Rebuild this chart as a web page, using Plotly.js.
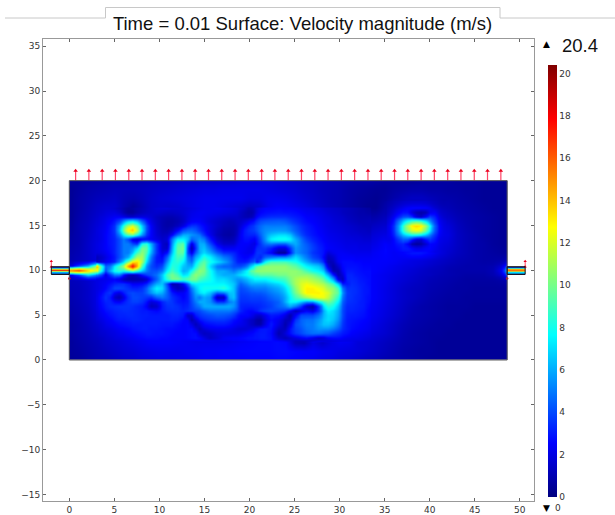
<!DOCTYPE html>
<html><head><meta charset="utf-8">
<script src="https://cdn.plot.ly/plotly-3.0.1.min.js"></script>
<style>html,body{margin:0;padding:0;background:#fff}#c{width:615px;height:515px}</style></head>
<body><div id="c"></div>
<script>
const titleText='Time = 0.01 Surface: Velocity magnitude (m/s)';
const maxLabel='20.4', minLabel='0';
const xNodes=[0,1,2,3,4,5,6,7,8,9,10,11,12,13,14,15,16,17,18,19,20,21,22,23,24,25,26,27,28,29,30,31,32,33,34,35,36,37,38,39,40,41,42,43,44,45,46,47,48,48.6];
const yNodes=[0,1,2,3,4,5,6,7,8,9,9.5,10,10.5,11,12,13,14,15,16,17,18,19,20];
const y0=[.5,.6,.8,1,1.1,1.3,1.5,1.6,1.8,1.9,2,2,2.1,2.1,2.2,2.3,2.3,2.4,2.4,2.4,2.5,2.5,2.5,2.6,2.6,2.5,2.4,2.3,2.1,2,1.8,1.7,1.5,1.3,1.2,1,.9,.8,.7,.6,.5,.5,.5,.5,.5,.5,.5,.5,.5,.5];
const y1=[.6,.7,.9,1.1,1.3,1.5,1.7,1.8,2,2.1,2.2,2.2,2.2,2.3,2.3,2.4,2.4,2.5,2.5,2.6,2.6,2.6,2.6,2.7,2.7,2.6,2.5,2.5,2.3,2.2,2,1.9,1.8,1.6,1.4,1.2,1,.8,.7,.6,.6,.5,.5,.5,.5,.5,.5,.5,.5,.5];
const y2=[.6,.8,1,1.2,1.5,1.7,1.9,2.1,2.3,2.5,2.5,2.5,2.4,2.3,2.2,2.2,2.2,2.2,2.3,2.4,2.5,2.6,2.6,2.7,2.6,1.2,1,2,1.5,2,2.3,2.2,1.8,1.7,1.5,1.3,1.1,.9,.8,.7,.6,.5,.5,.5,.5,.5,.5,.5,.5,.5];
const y3=[.7,.9,1.1,1.4,1.7,2,2.2,2.5,2.7,2.9,2.9,2.8,2.6,2.3,1.6,.9,.8,.9,1,1.2,1.6,1.8,2.2,2.6,1.2,2.5,4,5.5,5.5,3.5,3,2.8,2,2,1.8,1.6,1.3,1,.8,.7,.6,.6,.5,.5,.5,.5,.5,.5,.5,.5];
const y4=[.7,.9,1.2,1.6,2,2.4,2.7,2.9,3,3.1,3,3,2.8,2,1.6,2,2.6,2.8,2.6,2,1.2,.9,1.8,2.8,.9,2,3.5,5,6,6,4.5,3.2,2.2,2.2,2,1.7,1.4,1.1,.9,.8,.7,.6,.6,.5,.5,.5,.5,.5,.5,.5];
const y5=[.8,1,1.3,1.8,2.4,3,3.3,3.4,3.4,3.2,3.2,3.2,3,2.6,3.3,4.2,4.5,4.5,4,3,2.2,2,2.8,3.5,3,2.6,3.5,5,6,7.5,6,3.5,2.4,2.4,2.2,1.9,1.6,1.3,1,.9,.8,.7,.6,.6,.5,.5,.5,.5,.5,.5];
const y6=[.9,1.1,1.4,2,3,3.5,3.5,3,3,1.5,3,4,3,2.8,4,6,6.5,6,6.5,5.5,4.5,4,4.5,5,6,5.5,3.5,2,6,9,5,3,2.5,2.5,2.3,2,1.7,1.4,1.1,.9,.8,.7,.6,.6,.6,.5,.5,.5,.5,.5];
const y7=[1,1.2,1.5,2,3.5,1.5,3,4,3,3,5,4,2.5,2.5,4.5,6.5,4,1.5,5,6.5,6,6,6.5,7,8,10,12.5,13.5,13.5,11,4,2.8,2.7,2.6,2.4,2.1,1.8,1.5,1.3,1.1,.9,.8,.7,.7,.6,.6,.6,.6,.6,.6];
const y8=[1.1,1.2,1.5,2,2.5,3,3,2.5,2.5,4,6.5,3,1,1.5,4,6,6.5,7,6.5,7,8,8.5,9,9,10,11,11.5,11,9.5,7,3,2.6,2.7,2.6,2.4,2.1,1.8,1.5,1.3,1.2,1,.9,.8,.7,.7,.6,.6,.6,.6,.6];
const y9=[1.2,1.3,1.6,2,2.2,2.5,1.2,.8,1.2,2.5,5,7,8,8.5,9,8.5,7.5,7,7,7.5,9,9.5,10,10,10,10.5,10,8,4.5,1.5,1.2,2.4,2.7,2.6,2.4,2.2,1.9,1.7,1.5,1.3,1.1,1,.9,.8,.7,.7,.7,.7,.8,1];
const y9h=[2.5,4,7,5,5,3,5,5,4.5,5.5,7,7.5,9,9,9.5,9.5,8.5,7,6.5,7,9.5,10,10.5,10,9.5,9.5,8.5,6,2.5,1.2,2.3,2.5,2.7,2.6,2.4,2.2,2,1.8,1.6,1.4,1.3,1.1,1,.9,.8,.8,.8,1,1.6,3.5];
const y10=[16,17,14,12,8,6,9,11,7,6,6,6,8.5,9,9,9.5,9,6,5,6,9,10,10,9.5,9,8.5,7.5,4.5,1.5,1.8,2.3,2.4,2.7,2.6,2.5,2.3,2.1,1.9,1.7,1.5,1.3,1.2,1,.9,.9,.9,.9,1.1,2.2,6];
const y10h=[2,4,6,11,5,5,10,16,10,5.5,4,4.5,8,9,8,9,9,5,3.5,4,6,8,8.5,8,8,8,7,4,1,1.8,2.2,2.3,2.6,2.6,2.5,2.4,2.2,2,1.9,1.7,1.5,1.3,1.1,1,.9,.9,.9,1,1.6,3.5];
const y11=[1,1.2,1.5,1.8,2.2,4,9,14,11,5,3,3,8,9,6.5,9,8,4,3,3,3,6,7,6.5,6.5,7,6,3.5,1,1.5,2,2.2,2.5,2.5,2.5,2.5,2.4,2.2,2,1.9,1.7,1.5,1.3,1.1,1,.9,.8,.8,.9,1.2];
const y12=[.9,1.1,1.5,2,2.6,4.5,6,4,8.5,6.5,2.8,1.5,7,8,2.5,8,6,2.8,2,2,.8,4,6,2,2,6,5.5,3,1.5,1.7,1.8,1.7,2.2,2.2,2.4,2.6,2.4,2.6,3,3,2.6,2,1.6,1.3,1.1,.9,.8,.7,.6,.6];
const y13=[.8,1,1.5,2,2.8,5,5.5,1.5,3,5,3,1.2,6,8,3,6,5,2,1.5,2.5,1.5,4,6.5,4,4,6,4.5,2.8,2,1.8,1.5,1.4,1.9,1.9,2.1,2.5,3.5,1.5,.8,1.8,3.5,2.5,1.8,1.4,1.1,.9,.8,.6,.5,.5];
const y14=[.7,1,1.4,1.9,2.8,6,10,10.5,6,3.5,2,1.2,3,6.5,7.5,4,2,.9,1,2.5,4,5,6.5,7.5,7,5,3.2,2.4,2,1.7,1.5,1.3,1.5,1.6,1.8,2,4.5,9,12.5,11,6,3,2,1.4,1.1,.9,.7,.6,.5,.5];
const y15=[.6,1,1.3,1.8,2.6,5.5,11,12,8,3,1.2,.7,1.2,2.8,3,2.4,1.7,.9,.8,1.8,3,4,4.5,5,4.6,3.5,2.8,2.2,1.9,1.6,1.4,1.2,1.2,1.2,1.4,1.6,3.5,8,13,12,6,3,1.8,1.3,1,.8,.7,.6,.5,.5];
const y16=[.5,.9,1.2,1.6,2.1,2.6,2.5,1.8,2,2,1.5,.9,.8,1.4,2,2.2,2,1.4,1.3,1.5,1.2,2,3,3.2,3,2.6,2.3,2,1.7,1.4,1.2,1,1,.8,.9,1.2,1.7,2.6,1,.6,2.6,2,1.4,1.1,.9,.8,.7,.6,.5,.5];
const y17=[.5,.8,1.1,1.4,1.6,1.6,1,.5,1,1.5,1.6,1.5,1.6,1.9,2.1,2.2,2.2,2,1.8,1.6,1.3,1.5,2.2,2.5,2.4,2.2,2,1.7,1.4,1.2,1,.8,.6,.4,.4,.9,1,1.5,1.5,1.5,1.6,1.3,1.1,.9,.8,.7,.6,.5,.5,.5];
const y18=[.5,.8,1,1.2,1.3,1.4,1.1,1,1.2,1.5,1.7,1.8,1.9,2,2.1,2.2,2.2,2.2,2.2,2.2,2,2,2.2,2.2,2.1,1.9,1.7,1.5,1.3,1.1,1,.8,.6,.5,.4,.6,.9,1.2,1.4,1.4,1.2,1,.9,.8,.7,.6,.5,.5,.5,.5];
const y19=[.5,.7,.9,1,1.1,1.2,1.2,1.2,1.3,1.4,1.5,1.6,1.7,1.8,1.9,2,2,2.1,2.1,2.1,2.1,2.1,2,1.9,1.8,1.7,1.5,1.4,1.2,1.1,1,.8,.7,.6,.5,.5,.7,.8,.9,.9,.8,.8,.7,.7,.6,.6,.5,.5,.5,.5];
const y20=[.6,.6,.7,.8,.9,1,1,1.1,1.1,1.2,1.3,1.3,1.4,1.5,1.5,1.6,1.6,1.7,1.7,1.8,1.8,1.8,1.8,1.7,1.6,1.5,1.4,1.3,1.2,1.1,1,.9,.8,.8,.7,.6,.6,.6,.6,.7,.7,.7,.7,.6,.6,.6,.5,.5,.5,.5];

const fineX=[3,3.5,4,4.5,5,5.5,6,6.5,7,7.5,8,8.55,9.1,9.65,10.25,10.8,11.4,12,12.6,13.05,13.5,14,14.45,14.95,15.5,16.45,17.15,17.8,18.2,18.6,19,19.4,19.8,20.2,20.55,20.85,21.2,21.7,22.3,23.3,23.9,24.5,25.1,25.7,26.3,27,27.7,28.2,28.7,29.3,29.8,30.3,30.8,31.3,31.8,32.2,32.7,33.1,33.5];
const fineY=[2,2.5,3,3.5,4,4.5,5,5.5,6,6.5,7,7.5,8,8.5,9,9.5,10,10.5,11,11.5,12,12.5,13,13.5,14,14.5,15,15.5,16,16.5,17];
const f170=[1.4,1.5,1.6,1.6,1.5,1.2,.9,.6,.7,.9,1.1,1.3,1.5,1.7,1.8,1.8,1.7,1.7,1.7,1.8,1.9,2,2.1,2.2,2.2,2.3,2.2,2.1,2,1.9,1.7,1.5,1.1,1.2,1.5,1.9,2.2,2.5,2.5,2.6,2.5,2.5,2.4,2.2,2.1,2,1.9,1.7,1.6,1.5,1.4,1.3,1.2,1.1,1,.9,.8,.7,.6];
const f165=[1.5,1.6,1.8,1.9,1.9,1.6,1,.5,.5,.9,1.2,1.4,1.5,1.6,1.5,1.4,1.4,1.5,1.7,1.9,2.1,2.2,2.3,2.3,2.2,2.1,2,1.9,1.8,1.7,1.4,1.1,.9,.9,1.4,2,2.5,2.7,2.8,2.9,2.8,2.8,2.7,2.5,2.3,2.2,2,1.9,1.7,1.6,1.5,1.3,1.2,1.1,1,.9,.9,.8,.8];
const f160=[1.6,1.8,2,2.2,2.4,2.4,2.1,1.7,1.6,1.9,2,1.9,1.7,1.3,1.1,1,1,1.2,1.5,1.9,2.2,2.3,2.3,2.2,2,1.8,1.6,1.5,1.5,1.5,1.3,1.1,1,1.2,1.9,2.6,3,3.2,3.4,3.4,3.4,3.2,3,2.8,2.5,2.4,2.2,2,1.9,1.7,1.6,1.5,1.3,1.2,1.1,1,1,1,1];
const f155=[1.7,1.9,2.2,2.5,3,3.8,5.5,7,7.5,6.5,4.5,3,2,1.4,1,.8,.8,1,1.4,2,2.4,2.5,2.5,2.2,1.8,1.5,1.3,1.1,1.2,1.4,1.5,1.8,2.2,2.6,3,3.5,4,4.2,4.3,4.4,4.2,3.8,3.4,3,2.7,2.5,2.3,2.1,2,1.8,1.7,1.6,1.4,1.3,1.2,1.1,1.1,1.1,1.2];
const f150=[1.8,2,2.3,2.8,3.5,5.5,8.5,11,12,10,6.5,4,2.4,1.5,1,.8,.9,1.3,2,3,3.5,3.5,3,2.6,2,1.5,1.1,1,1,1.3,1.8,2.5,3,3.4,3.8,4.2,4.6,5,5,5,5,4.6,4,3.4,3,2.7,2.4,2.2,2,1.9,1.8,1.7,1.6,1.5,1.4,1.3,1.2,1.2,1.2];
const f145=[1.9,2.1,2.4,2.9,3.6,6,10,13,14,11.5,7,4,2.5,1.6,1.1,1,1.4,2.5,4,4.5,4.6,4.2,3.5,2.8,2,1.3,.9,.8,.9,1.3,2.2,3,3.4,3.6,3.8,4.2,4.8,5.3,5.5,5.6,5.5,5,4.3,3.6,3.1,2.8,2.5,2.3,2.1,2,1.9,1.8,1.7,1.6,1.5,1.4,1.4,1.3,1.3];
const f140=[1.9,2.1,2.5,2.9,3.4,5,7.5,9.5,10,8,5.5,3.5,2.5,1.7,1.3,1.4,2.5,4.5,6,6,5.5,5.2,4.8,3.5,2.2,1.2,.8,.7,.9,1.5,2.4,3,3.2,3.2,3.2,3.6,4.5,5.5,6.5,7,7,6.5,5,4,3.3,2.9,2.6,2.4,2.2,2.1,2,1.9,1.8,1.7,1.7,1.6,1.5,1.5,1.5];
const f135=[1.9,2.1,2.5,2.9,3.2,4,5,4,2,1.6,2.4,2.6,2.4,2,1.5,1.8,5,7.5,7.5,6.5,4.5,5,5.6,5,3,1.6,1.1,1,1.2,1.8,2.4,2.8,2.8,2.6,2.4,3,4,5.5,7.5,8,8,7.5,6,4.8,3.8,3.2,2.8,2.5,2.3,2.2,2.1,2,1.9,1.9,1.8,1.8,1.7,1.7,1.7];
const f130=[2,2.2,2.5,2.9,3.2,4,5,5,4,3.5,8,8.5,6,3.5,1.6,1.2,5.5,9,9.5,5,2,4,6,6,4,2.2,1.5,1.5,1.6,2.2,2.5,2.5,2.5,2.2,2,2.8,3.6,4.6,5,4.5,4.5,5.5,6,5,4.3,3.6,3,2.7,2.4,2.3,2.2,2.1,2,2,2,1.9,1.9,1.9,1.9];
const f125=[2,2.2,2.5,2.8,3.2,4,5,5,5.5,7,10,9.5,6.5,3.5,1.6,1.5,6,9.5,10,4,1,3.5,6,6.5,5,3.2,2.4,2.4,2.4,2.6,2.5,2.4,2.2,2.1,2.6,3.4,3.5,3.6,3,1.8,1.8,3.5,5.5,5,4.5,3.8,3.2,2.8,2.5,2.4,2.3,2.2,2.1,2.1,2.1,2,2,2,2];
const f120=[1.9,2,2.3,2.7,3.2,4,5,5,6.5,9,10.5,9,6,3.5,2,2.8,6.5,9.5,9.5,4,2.2,4.5,6,7,6,4.5,3.5,3.4,3.2,2.8,2.5,2.3,2.2,2.3,3,3.6,3.6,3.2,2.5,.6,.6,3,5.5,5,4.5,3.6,3.2,2.8,1.8,2.2,2.4,2.4,2.3,2.2,2.2,2.2,2.2,2.2,2.2];
const f115=[1.2,1.5,2,2.5,3,4,5,6,8.5,11,11,8,5,3,2.6,4.5,7.5,9,8.5,5,4,6,7,8.5,7.5,6,5,4.5,3.6,3,2.7,2.5,2.6,3,3.5,3.5,3.2,4.5,5,5.5,5.5,6,7,6,5,4,3.5,2.5,1.2,1.6,2.4,2.5,2.5,2.5,2.4,2.4,2.4,2.4,2.4];
const f110=[1.5,1.8,2.3,2.7,3.2,5,7,10,13,13.5,11,7,4.5,3,3,5.5,8,8.5,7.5,5.5,4.8,7,8.5,9.5,8,7,6,5,4,3.2,3,3,3.3,4,4.5,3,4.5,7.5,9,9,9,8.5,8,7,6,5,4.5,3.2,1,1.2,2.3,2.7,2.7,2.7,2.6,2.6,2.5,2.5,2.5];
const f105=[14,9,4.5,5,7.5,9,11,15,18,14.5,9,5.5,4,3.4,4,6.5,8.5,8,6.5,6,6,8,9.5,10,7,5,4.5,4.5,4,4,4,4.5,5.5,7,8.5,9.5,10,10.5,10.5,10.5,10.5,10,9.5,8.5,7.5,7,6.5,5,1.8,.8,1.6,2.6,2.8,2.8,2.8,2.7,2.6,2.6,2.6];
const f100=[12,8,4,6,8,8.5,8,9,10,8.5,6.5,5,4.2,4.2,5,7.5,9,8,6,6.5,8,9.5,10.5,10,8,6,6,5.5,5,5.5,6,7,8,9.5,10,10.5,10.5,10.5,10.5,10.5,10.5,10.5,10.5,10,9,8,7.5,6.5,3.5,1,1,2.4,3,3,2.9,2.8,2.7,2.7,2.7];
const f095=[5,4,2,3.5,5,5,3,1.5,1.2,1.6,3,3.8,4.2,4.8,6.5,9,10,9,7,7.5,9.5,10.5,10,9.5,8,6.5,6,6,6,6.5,7,7.5,8,8.5,9,9,9.5,9.5,9.5,10,10,10.5,10.5,10.5,10.5,10,9,8,6,3,1,1.8,3.2,3.2,3,2.9,2.8,2.7,2.7];
const f090=[2,2.1,2.2,2.3,2.5,2,1.2,.8,.8,.9,1,1.5,3,4.5,6.5,8.5,10,10,9,9.5,10,10,9,8.5,8,7,7,6.5,6,5.5,5.5,6,6.5,7,7.5,7.5,7.5,7.5,8,8.5,9,10,11,11.5,11.5,11,10.5,9.5,8,6,2,1.2,3.2,3.3,3.2,3,2.9,2.8,2.7];
const f085=[2,2.2,2.4,2.8,3.2,3.4,3.4,3,2.4,2.4,2.6,3.2,4.5,6,6.5,4,.9,1.2,2.5,4.5,7,7.5,7.5,7.5,7.5,7.5,7.5,7,6.5,5.5,4.5,5,5.5,6,6,6,6,6,6.5,7,8,9.5,11,12,12.5,12,11.5,11,10,9,6.5,3,3,3.4,3.3,3.1,3,2.8,2.7];
const f080=[2,2.2,2.6,3.2,4,4,3.8,3.5,3.2,3.2,3.5,4.5,6,7.5,7,4.5,2,1.2,1.5,3,5,6.5,7.5,8,8,8,8.5,7.5,6.5,5,4,4.2,4.5,4.8,5,5,5,5,5.5,6,7,8.5,10.5,12,13,13,12.5,12,11,10.5,9,5,3.5,3.5,3.4,3.2,3,2.9,2.7];
const f075=[2.1,2.5,3.2,3.6,2.5,2,3,3.8,4,3.8,3.8,4.5,5.5,6.5,6,4.5,3,2.4,2.4,3,4.5,6,7,7.5,6.5,4.5,5,6.5,6.5,4.8,3.8,3.9,4,4.2,4.2,4.3,4.3,4.5,5,5.5,6.5,8,10,11.5,13,13,13,12.5,12,10.5,9.5,5.5,3.7,3.5,3.4,3.2,3,2.9,2.7];
const f070=[2.2,2.8,3.5,3,1.5,1,2,3.4,4,4,3.8,3.6,3.4,4.5,5,4.4,3.5,3,2.5,3,4.2,5.5,5,6,5.5,1.2,1.2,6,6.5,4.8,3.6,3.6,3.7,3.8,3.8,3.8,3.8,4,4.5,5,6,7.5,9,10,11,12,12.5,12.5,11.5,10,8.5,5,3.6,3.5,3.3,3.2,3,2.8,2.7];
const f065=[2.2,2.7,3.2,3.2,2.6,2.4,3,3.5,3.8,3.8,3.5,2.8,1.8,2.2,3.2,3.8,3.6,3,2.8,3,4,5,6,6,5.5,3.5,3.5,5,5.5,4.5,3.4,3.4,3.4,3.5,3.5,3.5,3.5,3.7,4,4.5,6,7.5,7.5,6.5,5.5,5.5,7.5,9,10,9,7.5,4.5,3.5,3.4,3.3,3.1,3,2.8,2.6];
const f060=[2.1,2.6,3,3.3,3.4,3.5,3.5,3.5,3.4,3.2,3,2.4,1.2,1.5,3,3.5,3.6,3.4,3,3.2,3.8,4.5,5,6,6,6,6,6,5.5,4.5,3.2,3.1,3.1,3.1,3.2,3.2,3.3,3.5,3.8,4.5,5,6,5,3.5,1.5,.8,3.5,7,8.5,8,6.5,4.2,3.3,3.3,3.2,3.1,3,2.7,2.5];
const f055=[2,2.4,2.8,3,3.2,3.3,3.4,3.4,3.3,3.2,3,3,2.8,2.6,3,3.3,3.4,3.4,3.2,3.4,3.6,3.8,4,4.5,5,5,5,5,4.5,4,3.2,2.8,2.6,2.6,2.8,3,3.5,3.8,4,3.8,3.5,2.5,1.2,1.8,2.5,2,3.5,6,7.5,7,6,4,3.2,3.2,3.1,3,2.9,2.6,2.4];
const f050=[1.9,2.2,2.5,2.8,3,3.2,3.2,3.3,3.3,3.2,3.1,3.1,3,3,3,3,3.2,3.2,3,1.5,1.5,3,3.5,3.8,4,4.3,4.2,4,3.6,3,2.6,2.6,2.6,2.2,1.8,1.6,1.5,2.2,3,2.8,2,.9,2.5,4,4,4,4.8,6.2,7,6.8,5.8,4,3.1,3,3,2.9,2.8,2.6,2.4];
const f045=[1.8,2,2.3,2.5,2.8,3,3,3.1,3.2,3.2,3.1,3,3,3,3,3,3.1,3,2.6,2.4,1,1.8,2.8,3.2,3.5,3.6,3.6,3.3,2.8,2.6,2.4,2,1.7,1.4,1.1,.8,.7,1.8,2.7,2.2,1.2,1.2,3.5,4.5,4.8,4.8,5.5,6.5,7,6.5,5.5,3.8,3,2.9,2.8,2.7,2.6,2.5,2.3];
const f040=[1.6,1.8,2.1,2.3,2.5,2.7,2.8,2.9,3,3,3,3,3,3,2.9,2.9,2.9,2.7,2.5,2.6,2,1.2,1.8,2.6,2.8,3,3,2.8,2.5,2.3,2.2,2,1.7,1.4,1.1,.9,.9,2,3,2,.9,2,4,4.5,5,5,5.8,6.5,6.5,6,5,3.6,3,2.8,2.7,2.6,2.5,2.4,2.2];
const f035=[1.5,1.7,1.9,2,2.2,2.4,2.5,2.6,2.8,2.9,3,3,2.9,2.9,2.8,2.7,2.7,2.6,2.5,2.6,2.7,2,1.2,1.8,2.2,2.3,2.3,2.2,2,1.8,1.7,1.7,1.8,2,2.3,2.6,2.9,3,2.8,1.4,1.2,2.8,3.8,4.2,4.8,5,5.5,5.5,5.5,5,4.3,3.4,3,2.7,2.6,2.5,2.4,2.3,2.1];
const f030=[1.4,1.6,1.7,1.9,2,2.2,2.3,2.5,2.6,2.7,2.8,2.9,2.9,2.8,2.8,2.7,2.6,2.5,2.5,2.6,2.7,2.7,1.8,1.3,1.5,1.9,2,2,2,2,2.1,2.3,2.5,2.6,2.8,2.9,3,3,2.7,1,1.8,2.8,3.6,4,4.5,4.8,4.8,4.5,4.3,3.8,3.4,3,2.8,2.5,2.4,2.3,2.2,2.1,2];
const f025=[1.3,1.4,1.6,1.7,1.9,2,2.1,2.2,2.3,2.5,2.6,2.7,2.7,2.7,2.6,2.6,2.5,2.5,2.5,2.6,2.7,2.8,2.6,2,1.4,1.8,2.3,2.4,2.5,2.5,2.6,2.7,2.8,2.8,2.9,2.9,3,3,2.8,1.6,1.2,1.6,2,2.4,2.7,2.2,1.6,1.9,2.5,2.7,2.7,2.5,2.3,2.2,2.2,2.1,2,1.9,1.8];
const f020=[1.2,1.35,1.5,1.6,1.7,1.8,1.9,2,2.1,2.2,2.3,2.4,2.5,2.5,2.5,2.5,2.4,2.4,2.3,2.3,2.3,2.3,2.4,2.4,2.4,2.3,2.3,2.3,2.4,2.4,2.5,2.5,2.6,2.6,2.6,2.6,2.7,2.7,2.7,2.5,2.2,1.8,1.2,1.1,1.2,1.5,1.9,1.8,1.7,1.8,1.9,2,2,2,1.9,1.9,1.8,1.7,1.6];

const blobX=[35,35.5,36,36.5,37,37.5,38,38.5,39,39.5,40,40.5,41,41.5,42];
const blobY=[12,12.5,13,13.5,14,14.5,15,15.5,16,16.5,17,17.5,18];
const b120=[2.6,2.5,2.4,2.5,2.6,2.7,2.8,2.8,2.8,2.7,2.4,2.1,2,1.8,1.6];
const b125=[2.6,2.5,2.5,2.7,3,3,2.6,2.2,2.2,2.5,2.6,2.3,2,1.8,1.7];
const b130=[2.5,2.4,2.6,3,3.2,2.5,1,.6,.8,1.6,2.6,2.5,2.1,1.9,1.8];
const b135=[2.2,2.2,2.7,3.6,4.4,4.3,3,1.8,1.6,2.8,3.6,3,2.2,2,1.9];
const b140=[2,2.3,3.2,4.8,6.3,7.3,8,8,7.5,6.5,5,3.6,2.5,2.1,2];
const b145=[1.8,2.3,3.5,5.6,8.5,10.5,12,12.5,12,10,7.2,4.4,2.7,2.1,1.9];
const b150=[1.6,2.3,3.5,5.6,8.5,11,13,13.5,13,11,7.8,4.6,2.7,2,1.8];
const b155=[1.4,2,3,4.8,6.5,8,9,9.5,9,7.5,5.5,3.8,2.4,1.9,1.6];
const b160=[1.2,1.7,2.4,3.2,4,4.2,3.5,2,1.5,2.6,3.8,3.2,2.1,1.6,1.4];
const b165=[1,1.4,1.9,2.4,2.8,2.8,1.8,1.1,.8,1,2.2,2.4,1.7,1.4,1.3];
const b170=[.9,1.2,1.5,1.9,2.2,2.5,2.6,2.6,2.6,2.5,2.2,1.7,1.4,1.2,1.1];
const b175=[.8,1,1.2,1.4,1.6,1.7,1.8,1.8,1.8,1.7,1.5,1.3,1.1,1,1];
const b180=[.6,.8,1,1.1,1.2,1.3,1.3,1.3,1.3,1.3,1.2,1.1,1,.9,.9];

const inletX=[-2,0], outletX=[48.6,50.6];
const channelY=[9.55,9.67,9.79,9.91,10.03,10.15,10.27,10.4];
const inletSpeed=[[1],[6],[12],[18],[12],[6],[1]];
const outletSpeed=[[1],[7],[14],[16],[14],[7],[1]];
const inflowX=[.7,2.17,3.65,5.12,6.6,8.07,9.55,11.02,12.5,13.97,15.45,16.92,18.4,19.87,21.35,22.82,24.3,25.77,27.25,28.72,30.2,31.67,33.15,34.62,36.1,37.57,39.05,40.52,42,43.47,44.95,46.42,47.9];
const tickVals=[0,2,4,6,8,10,12,14,16,18,20];

const zRows=[y0,y1,y2,y3,y4,y5,y6,y7,y8,y9,y9h,y10,y10h,y11,y12,y13,y14,y15,y16,y17,y18,y19,y20];
const fineRows=[f020,f025,f030,f035,f040,f045,f050,f055,f060,f065,f070,f075,f080,f085,f090,f095,f100,f105,f110,f115,f120,f125,f130,f135,f140,f145,f150,f155,f160,f165,f170];
const blobRows=[b120,b125,b130,b135,b140,b145,b150,b155,b160,b165,b170,b175,b180];
function edges(n){const e=[n[0]];for(let i=0;i<n.length-1;i++)e.push((n[i]+n[i+1])/2);e.push(n[n.length-1]);return e;}
const jet=[[0,'#00007f'],[.125,'#0000ff'],[.375,'#00ffff'],[.625,'#ffff00'],[.875,'#ff0000'],[1,'#7f0000']];
const L=43,R=534,T=39,B=501,W=615,H=515;
const px=x=>(x-L)/(R-L), py=y=>(B-y)/(B-T);
const heat=(x,y,z,extra)=>Object.assign({type:'heatmap',x,y,z,zmin:0,zmax:20.4,zsmooth:'best',colorscale:jet,showscale:false,hoverinfo:'skip'},extra||{});
const shaftX=[],shaftY=[];inflowX.forEach(v=>{shaftX.push(v,v,null);shaftY.push(20,21.1,null);});
const traces=[
 heat(edges(xNodes),edges(yNodes),zRows,{showscale:true,colorbar:{thickness:9,thicknessmode:'pixels',len:431.5,lenmode:'pixels',x:px(548),xanchor:'left',y:py(497),yanchor:'bottom',xpad:0,ypad:0,outlinewidth:0,ticks:'',tickmode:'array',tickvals:tickVals,ticktext:tickVals.map(String),ticklabelposition:'outside',tickfont:{family:'DejaVu Sans',size:9,color:'#333'}}}),
 heat(edges(fineX),edges(fineY),fineRows),
 heat(edges(blobX),edges(blobY),blobRows),
 heat(inletX,channelY,inletSpeed,{zsmooth:false}),
 heat(outletX,channelY,outletSpeed,{zsmooth:false}),
 {type:'scatter',mode:'lines',x:shaftX,y:shaftY,line:{color:'#f46',width:1.2},hoverinfo:'skip',showlegend:false},
 {type:'scatter',mode:'markers',x:inflowX,y:inflowX.map(()=>21.1),marker:{symbol:'triangle-up',size:4,color:'#e8001c'},hoverinfo:'skip',showlegend:false},
 {type:'scatter',mode:'lines+markers',x:[-2,-2,null,50.6,50.6],y:[10.4,11,null,10.4,11],line:{color:'#f46',width:1},marker:{symbol:'triangle-up',size:3,color:'#e8001c'},hoverinfo:'skip',showlegend:false},
 {type:'scatter',mode:'markers',x:[0,48.6],y:[9.1,9.1],marker:{symbol:'circle',size:2.5,color:'#e8001c'},hoverinfo:'skip',showlegend:false}
];
const outline=(x0,y0,x1,y1,c,w)=>({type:'rect',xref:'x',yref:'y',x0,y0,x1,y1,line:{color:c,width:w}});
const pline=(a,b,c,d)=>({type:'line',xref:'paper',yref:'paper',x0:px(a),y0:py(b),x1:px(c),y1:py(d),line:{color:'#c8c8c8',width:1}});
const note=(xp,yp,text,anchor,font)=>({xref:'paper',yref:'paper',x:px(xp),y:py(yp),xanchor:anchor,yanchor:'middle',text,showarrow:false,font});
const layout={
 width:W,height:H,margin:{l:L,r:W-R,t:T,b:H-B,pad:0},paper_bgcolor:'#fff',plot_bgcolor:'#fff',showlegend:false,
 title:{text:titleText,font:{family:'Liberation Sans',size:18.5,color:'#111'},x:px(302.5),xanchor:'center',xref:'paper',y:1-24/H,yanchor:'middle'},
 xaxis:{range:[-2.92,51.58],tickvals:[0,5,10,15,20,25,30,35,40,45,50],ticks:'inside',ticklen:3,tickcolor:'#666',showgrid:false,zeroline:false,showline:true,mirror:'ticks',linecolor:'#999',linewidth:1,tickfont:{family:'DejaVu Sans',size:9,color:'#333'}},
 yaxis:{range:[-15.73,35.8],tickvals:[-15,-10,-5,0,5,10,15,20,25,30,35],ticks:'inside',ticklen:3,tickcolor:'#666',showgrid:false,zeroline:false,showline:true,mirror:'ticks',linecolor:'#999',linewidth:1,tickfont:{family:'DejaVu Sans',size:9,color:'#333'}},
 shapes:[
  outline(0,0,48.6,20,'#555',1),
  outline(-2,9.55,0,10.4,'#111',1),
  outline(48.6,9.55,50.6,10.4,'#111',1),
  pline(5,18,105.5,18),pline(105.5,18,105.5,7.5),pline(105.5,7.5,500,7.5),pline(500,7.5,500,18),pline(500,18,615,18)
 ],
 annotations:[
  note(546,44,'▲','center',{family:'DejaVu Sans',size:9,color:'#000'}),
  note(560,45,maxLabel,'left',{family:'Liberation Sans',size:18.5,color:'#111'}),
  note(546,508,'▼','center',{family:'DejaVu Sans',size:9,color:'#000'}),
  note(553,508,minLabel,'left',{family:'DejaVu Sans',size:9,color:'#333'})
 ]
};
Plotly.newPlot('c',traces,layout,{displayModeBar:false,staticPlot:true});
</script></body></html>
